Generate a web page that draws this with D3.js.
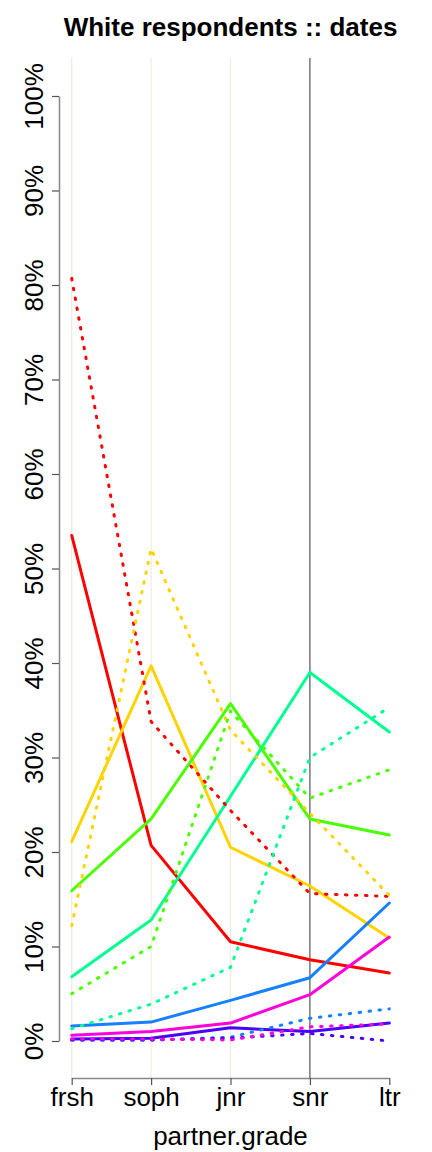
<!DOCTYPE html>
<html>
<head>
<meta charset="utf-8">
<script src="https://cdn.jsdelivr.net/npm/d3@7"></script>
<style>
html,body{margin:0;padding:0;background:#fff;}
text{font-family:"Liberation Sans",Arial,Helvetica,sans-serif;}
</style>
</head>
<body>
<svg id="chart" width="432" height="1152"></svg>
<script>
// ---- data ----
const categories = ["frsh", "soph", "jnr", "snr", "ltr"];
const yTicks = [0, 0.1, 0.2, 0.3, 0.4, 0.5, 0.6, 0.7, 0.8, 0.9, 1.0];
const seriesColors = ["#FF0000", "#FFD300", "#49FF00", "#00FF92", "#1680FF", "#4900FF", "#FF00DB"];

// solid lines
const redSolid     = [0.535, 0.207, 0.105, 0.086, 0.072];
const goldSolid    = [0.211, 0.397, 0.205, 0.164, 0.109];
const greenSolid   = [0.159, 0.235, 0.357, 0.235, 0.218];
const springSolid  = [0.068, 0.128, 0.259, 0.390, 0.327];
const blueSolid    = [0.016, 0.020, 0.043, 0.067, 0.146];
const violetSolid  = [0.002, 0.003, 0.014, 0.010, 0.019];
const magentaSolid = [0.006, 0.010, 0.019, 0.049, 0.110];

// dotted lines
const redDotted     = [0.807, 0.338, 0.244, 0.156, 0.153];
const goldDotted    = [0.122, 0.521, 0.329, 0.241, 0.154];
const greenDotted   = [0.050, 0.100, 0.349, 0.257, 0.287];
const springDotted  = [0.013, 0.039, 0.078, 0.300, 0.353];
const blueDotted    = [0.001, 0.001, 0.004, 0.024, 0.034];
const violetDotted  = [0.001, 0.001, 0.003, 0.008, 0.000];
const magentaDotted = [0.002, 0.002, 0.001, 0.015, 0.018];

const solidSeries  = [redSolid, goldSolid, greenSolid, springSolid, blueSolid, violetSolid, magentaSolid];
const dottedSeries = [redDotted, goldDotted, greenDotted, springDotted, blueDotted, violetDotted, magentaDotted];

// ---- layout ----
const svg = d3.select("#chart");
const plotLeft = 59, plotRight = 402, plotTop = 58, plotBottom = 1079;

const x = d3.scalePoint().domain(categories).range([71.7, 389.3]);
const y = d3.scaleLinear().domain([0, 1]).range([1041, 96]);

// vertical reference lines
const gridCats = ["frsh", "soph", "jnr"];
svg.append("g").selectAll("line").data(gridCats).join("line")
  .attr("x1", d => x(d)).attr("x2", d => x(d))
  .attr("y1", plotTop).attr("y2", plotBottom)
  .attr("stroke", "#EFECDD").attr("stroke-width", 1.2);
svg.append("line")
  .attr("x1", x("snr")).attr("x2", x("snr"))
  .attr("y1", plotTop).attr("y2", plotBottom)
  .attr("stroke", "#555").attr("stroke-width", 1.2);

// lines
const line = d3.line().x((d, i) => x(categories[i])).y(d => y(d));
const lg = svg.append("g").attr("fill", "none").attr("stroke-width", 3);
solidSeries.forEach((s, k) => {
  lg.append("path").attr("d", line(s)).attr("stroke", seriesColors[k])
    .attr("stroke-linejoin", "round").attr("stroke-linecap", "round");
});
dottedSeries.forEach((s, k) => {
  lg.append("path").attr("d", line(s)).attr("stroke", seriesColors[k])
    .attr("stroke-dasharray", "1.5,8.5").attr("stroke-linecap", "round");
});

// y axis
const yAxis = d3.axisLeft(y).tickValues(yTicks).tickFormat(d3.format(".0%")).tickSize(7).tickSizeOuter(0);
const yg = svg.append("g").attr("transform", `translate(${plotLeft},0)`).call(yAxis);
yg.select(".domain").attr("stroke", "#888").attr("stroke-width", 1.5);
yg.selectAll(".tick line").attr("stroke", "#555").attr("stroke-width", 1.2);
yg.selectAll(".tick text")
  .attr("font-size", 26).attr("fill", "#000")
  .attr("text-anchor", "middle")
  .attr("transform", "rotate(-90)")
  .attr("x", 0).attr("y", -16).attr("dy", 0);

// x axis
const xAxis = d3.axisBottom(x).tickSize(7).tickSizeOuter(0).tickPadding(2);
const xg = svg.append("g").attr("transform", `translate(0,1078)`).call(xAxis);
xg.select(".domain").attr("stroke", "#888").attr("stroke-width", 1.5);
xg.selectAll(".tick line").attr("stroke", "#555").attr("stroke-width", 1.2);
xg.selectAll(".tick text").attr("font-size", 26).attr("fill", "#000").attr("dy", "0.72em");

// x axis title
svg.append("text").attr("x", (plotLeft + plotRight) / 2).attr("y", 1145)
  .attr("text-anchor", "middle").attr("font-size", 26).text("partner.grade");

// title
svg.append("text").attr("x", (plotLeft + plotRight) / 2).attr("y", 36)
  .attr("text-anchor", "middle").attr("font-size", 26).attr("font-weight", "bold")
  .text("White respondents :: dates");
</script>
</body>
</html>
